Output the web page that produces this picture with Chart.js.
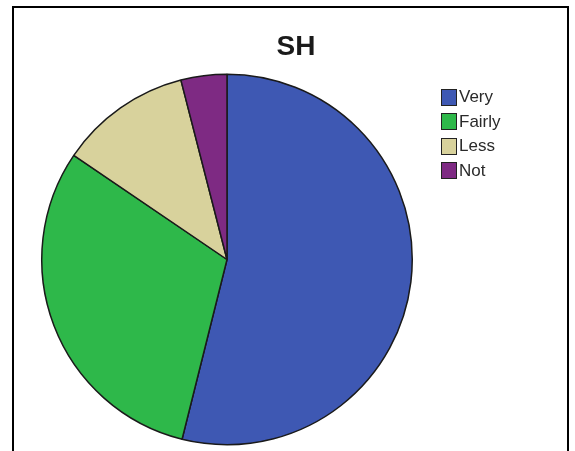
<!DOCTYPE html>
<html>
<head>
<meta charset="utf-8">
<script src="https://cdn.jsdelivr.net/npm/chart.js@4.4.1/dist/chart.umd.min.js"></script>
<style>
  html, body { margin: 0; padding: 0; background: #fff; }
  body { width: 575px; height: 451px; position: relative; overflow: hidden; font-family: "Liberation Sans", Arial, sans-serif; }
  .frame { position: absolute; left: 12px; top: 6px; width: 553px; height: 460px; border: 2px solid #000; border-bottom: none; }
  #pie { position: absolute; left: 0; top: 0; }
  .title { position: absolute; left: 246px; width: 100px; top: 30px; text-align: center; font-size: 28px; font-weight: bold; color: #1a1a1a; }
  .legend { position: absolute; left: 441px; top: 85px; list-style: none; margin: 0; padding: 0; }
  .legend li { height: 24.5px; display: flex; align-items: center; font-size: 17px; color: #2a2a2a; }
  .legend .box { width: 16px; height: 17px; border: 1px solid #222; box-sizing: border-box; margin-right: 2px; }
</style>
</head>
<body>
<div class="frame"></div>
<canvas id="pie" width="575" height="451"></canvas>
<div class="title">SH</div>
<ul class="legend" id="legend"></ul>
<script>
// slice shares in percent (clockwise from 12 o'clock)
const labels = ['Very', 'Fairly', 'Less', 'Not'];
const values = [53.9, 30.6, 11.5, 4.0];
const colors = ['#3e58b3', '#2eb84a', '#d8d29c', '#7e2a83'];

const legend = document.getElementById('legend');
labels.forEach((l, i) => {
  const li = document.createElement('li');
  li.innerHTML = '<span class="box" style="background:' + colors[i] + '"></span>' + l;
  legend.appendChild(li);
});

new Chart(document.getElementById('pie'), {
  type: 'pie',
  data: {
    labels: labels,
    datasets: [{
      data: values,
      backgroundColor: colors,
      borderColor: '#1a1a1a',
      borderWidth: 1.5
    }]
  },
  options: {
    responsive: false,
    animation: false,
    layout: { padding: { left: 41, top: 73, right: 162, bottom: 5 } },
    plugins: {
      legend: { display: false },
      tooltip: { enabled: false }
    }
  }
});
</script>
</body>
</html>
